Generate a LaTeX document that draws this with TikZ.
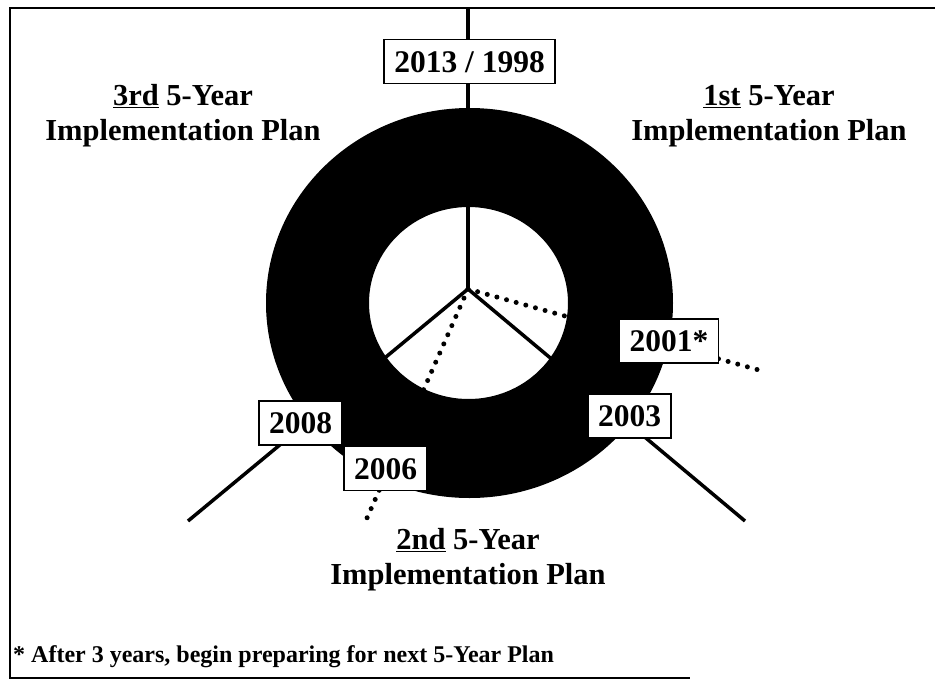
\documentclass[tikz,border=0pt]{standalone}
\usepackage{fontspec}
\setmainfont{Liberation Serif}
\begin{document}
\begin{tikzpicture}[x=1pt,y=-1pt,
  yearbox/.style={draw,line width=1.6pt,fill=white,font=\fontsize{31.5}{36}\selectfont\bfseries,minimum height=44pt,inner xsep=10pt,inner ysep=0pt,text height=21.5pt,text depth=0pt},
  plan/.style={font=\fontsize{30.5}{35}\selectfont\bfseries,align=center,inner sep=0pt},
  spoke/.style={line width=3.5pt},
  dotspoke/.style={line width=5pt,dash pattern=on 0pt off 10pt,line cap=round},
  frameline/.style={line width=2.5pt}]
\useasboundingbox (0,0) rectangle (935,683);
% frame
\coordinate (tl) at (10,8);
\coordinate (tr) at (935,8);
\coordinate (bl) at (10,678);
\coordinate (br) at (690,678);
\draw[frameline] (tr) -- (tl) -- (bl) -- (br);
% ring
\fill[even odd rule] (469.5,303) ellipse [x radius=203.5pt, y radius=195pt]
                     (468.5,303) ellipse [x radius=99.5pt, y radius=96pt];
% spokes
\coordinate (hub) at (468,289);
\coordinate (top) at (468,8);
\coordinate (se) at (745,521);
\coordinate (sw) at (188,521);
\coordinate (ee) at (766,372);
\coordinate (ss) at (367,518);
\draw[spoke] (hub) -- (top);
\draw[spoke] (hub) -- (se);
\draw[spoke] (hub) -- (sw);
\draw[dotspoke] (hub) -- (ee);
\draw[dotspoke] (hub) -- (ss);
% year boxes
\node[yearbox] (y1998) at (469.5,61.5) {2013 / 1998};
\node[yearbox] (y2001) at (669,341) {2001*};
\node[yearbox] (y2003) at (629.5,416) {2003};
\node[yearbox] (y2008) at (300.5,423) {2008};
\node[yearbox] (y2006) at (385.5,468.5) {2006};
% plan labels
\node[plan] (p3) at (183,116) {\underline{3rd} 5-Year\\Implementation Plan};
\node[plan] (p1) at (769,116) {\underline{1st} 5-Year\\Implementation Plan};
\node[plan] (p2) at (468,560) {\underline{2nd} 5-Year\\Implementation Plan};
% footnote
\node[anchor=base west,font=\fontsize{24}{28}\selectfont\bfseries,inner sep=0pt] (fn) at (13,662) {* After 3 years, begin preparing for next 5-Year Plan};
\end{tikzpicture}
\end{document}
